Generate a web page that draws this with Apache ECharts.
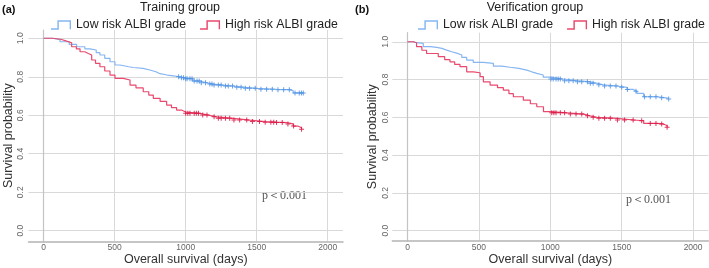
<!DOCTYPE html>
<html>
<head>
<meta charset="utf-8">
<script src="https://cdn.jsdelivr.net/npm/echarts@6/dist/echarts.min.js"></script>
<style>
  html, body { margin: 0; padding: 0; background: #fff; }
  #chart { width: 709px; height: 268px; }
</style>
</head>
<body>
<div id="chart"></div>
<script>
// Kaplan-Meier curves: time (days) and survival after each drop
const lowTimesA = [0, 60, 115, 180, 232, 290, 326, 370, 396, 430, 467, 502, 537, 600, 631, 700, 748, 790, 819, 870, 912, 960, 1000, 1050, 1100, 1150, 1194, 1260, 1335, 1420, 1500, 1640, 1734, 1757, 1828];
const lowSurvA = [1.0, 0.993, 0.982, 0.968, 0.956, 0.945, 0.939, 0.925, 0.913, 0.896, 0.878, 0.861, 0.852, 0.848, 0.844, 0.835, 0.826, 0.816, 0.809, 0.805, 0.8, 0.795, 0.79, 0.778, 0.769, 0.762, 0.757, 0.752, 0.745, 0.74, 0.735, 0.733, 0.728, 0.716, 0.716];
const highTimesA = [0, 60, 120, 162, 197, 230, 256, 290, 314, 338, 365, 396, 430, 467, 502, 560, 608, 650, 701, 740, 772, 820, 866, 900, 936, 970, 1000, 1100, 1160, 1218, 1335, 1452, 1560, 1640, 1711, 1757, 1790, 1816];
const highSurvA = [1.0, 0.995, 0.985, 0.977, 0.956, 0.945, 0.93, 0.921, 0.913, 0.887, 0.87, 0.852, 0.83, 0.809, 0.792, 0.783, 0.757, 0.742, 0.722, 0.705, 0.688, 0.672, 0.653, 0.64, 0.627, 0.617, 0.61, 0.601, 0.592, 0.584, 0.575, 0.567, 0.564, 0.562, 0.555, 0.544, 0.535, 0.527];

const lowTimesB = [0, 40, 63, 110, 160, 204, 240, 274, 310, 344, 380, 414, 460, 531, 601, 660, 718, 780, 835, 870, 905, 950, 1004, 1092, 1186, 1280, 1330, 1373, 1467, 1537, 1580, 1607, 1654, 1748, 1800, 1829];
const lowSurvB = [1.0, 0.995, 0.991, 0.974, 0.97, 0.965, 0.956, 0.947, 0.94, 0.93, 0.917, 0.903, 0.891, 0.886, 0.871, 0.865, 0.859, 0.85, 0.841, 0.833, 0.824, 0.813, 0.803, 0.794, 0.788, 0.78, 0.772, 0.766, 0.759, 0.748, 0.738, 0.727, 0.709, 0.704, 0.7, 0.697];
const highTimesB = [0, 40, 63, 100, 133, 215, 260, 297, 330, 367, 414, 460, 508, 531, 578, 630, 671, 710, 741, 811, 860, 905, 952, 1004, 1116, 1233, 1280, 1326, 1467, 1584, 1654, 1748, 1790, 1818];
const highSurvB = [1.0, 0.995, 0.974, 0.955, 0.938, 0.921, 0.905, 0.894, 0.88, 0.868, 0.841, 0.836, 0.815, 0.788, 0.771, 0.757, 0.744, 0.725, 0.709, 0.691, 0.672, 0.656, 0.63, 0.624, 0.617, 0.608, 0.6, 0.595, 0.586, 0.582, 0.568, 0.565, 0.557, 0.547];

// censoring times (the "+" marks)
const censLowA = [950, 970, 985, 1000, 1010, 1030, 1045, 1060, 1080, 1095, 1110, 1140, 1170, 1185, 1200, 1230, 1250, 1280, 1300, 1330, 1360, 1390, 1420, 1450, 1490, 1530, 1570, 1610, 1650, 1690, 1730, 1770, 1800, 1815, 1828];
const censHighA = [1000, 1015, 1030, 1060, 1075, 1090, 1120, 1150, 1200, 1230, 1250, 1280, 1310, 1340, 1380, 1430, 1470, 1520, 1560, 1600, 1620, 1640, 1680, 1720, 1760, 1816];
const censLowB = [1004, 1020, 1040, 1055, 1070, 1100, 1130, 1160, 1190, 1220, 1260, 1280, 1300, 1340, 1380, 1420, 1460, 1500, 1540, 1600, 1660, 1700, 1740, 1780, 1829];
const censHighB = [1010, 1025, 1040, 1070, 1100, 1140, 1180, 1220, 1260, 1300, 1340, 1380, 1420, 1470, 1520, 1580, 1640, 1700, 1740, 1780, 1818];

const xTicks = [0, 500, 1000, 1500, 2000];
const yTicks = [0, 0.2, 0.4, 0.6, 0.8, 1.0];
const groupNames = ["Low risk ALBI grade", "High risk ALBI grade"];
const panelTitles = ["Training group", "Verification group"];
const pText = "p\uFF1C0.001";

const LOW_LINE = "#86b6f2";
const LOW_MARK = "#4d90e2";
const HIGH_LINE = "#e9496d";
const HIGH_MARK = "#d91543";

const chart = echarts.init(document.getElementById("chart"));

function pairs(times, surv) {
  return times.map((t, i) => [t, surv[i]]);
}

// value of the step curve at time t
function survAt(t, times, surv) {
  let s = surv[0];
  for (let i = 0; i < times.length; i++) {
    if (times[i] <= t) s = surv[i];
  }
  return s;
}

function censorPoints(cens, times, surv) {
  return cens.map((t) => [t, survAt(t, times, surv)]);
}

const plus = "path://M-0.8,-4H0.8V-0.8H4V0.8H0.8V4H-0.8V0.8H-4V-0.8H-0.8Z";
const stepIcon = "path://M0,9H7V0H22V10H20.5V1.6H8.6V10.6H0Z";

function xAxis(gridIndex) {
  return {
    gridIndex,
    type: "value",
    min: -107,
    max: 2108,
    name: "Overall survival (days)",
    nameLocation: "middle",
    nameGap: 12,
    nameMoveOverlap: false,
    nameTextStyle: { fontSize: 12.5, color: "#333", fontFamily: "Liberation Sans" },
    axisLine: { show: true, onZero: false, lineStyle: { color: "#b4b4b4", width: 1.5 } },
    axisTick: { show: false, customValues: xTicks },
    axisLabel: {
      customValues: xTicks,
      fontSize: 8.5,
      color: "#666",
      margin: 2,
      fontFamily: "Liberation Sans",
      formatter: (v) => String(v),
    },
    splitLine: { show: true, lineStyle: { color: "#d9d9d9", width: 1 } },
  };
}

function yAxis(gridIndex, min, max, margin) {
  return {
    gridIndex,
    type: "value",
    min,
    max,
    name: "Survival probability",
    nameLocation: "middle",
    nameGap: 13,
    nameMoveOverlap: false,
    nameTextStyle: { fontSize: 12.5, color: "#333", fontFamily: "Liberation Sans" },
    axisLine: { show: true, lineStyle: { color: "#c4c4c4", width: 1.2 } },
    axisTick: { show: false, customValues: yTicks },
    axisLabel: {
      customValues: yTicks,
      rotate: 90,
      fontSize: 8.5,
      color: "#666",
      margin,
      fontFamily: "Liberation Sans",
      formatter: (v) => v.toFixed(1),
    },
    splitLine: { show: true, lineStyle: { color: "#d9d9d9", width: 1 } },
  };
}

function curveSeries(idx, name, times, surv, cens, lineColor, markColor) {
  return [
    {
      name,
      type: "line",
      xAxisIndex: idx,
      yAxisIndex: idx,
      step: "end",
      showSymbol: false,
      color: lineColor,
      lineStyle: { color: lineColor, width: 1.2 },
      data: pairs(times, surv),
      z: 3,
    },
    {
      name,
      type: "scatter",
      xAxisIndex: idx,
      yAxisIndex: idx,
      symbol: plus,
      symbolSize: 5,
      itemStyle: { color: markColor, opacity: 0.85 },
      data: censorPoints(cens, times, surv),
      z: 4,
    },
  ];
}

function legend(left) {
  return {
    left,
    top: 19,
    width: 320,
    padding: 0,
    icon: stepIcon,
    itemWidth: 20,
    itemHeight: 11,
    itemGap: 14,
    data: groupNames,
    textStyle: { fontSize: 12.3, color: "#222", fontFamily: "Liberation Sans" },
  };
}

function titleText(text, left, bold) {
  return {
    text,
    left,
    top: bold ? 4 : 1,
    padding: 0,
    textAlign: bold ? "left" : "center",
    textStyle: {
      fontSize: bold ? 11 : 12.5,
      fontWeight: bold ? "bold" : "normal",
      color: bold ? "#111" : "#222",
      fontFamily: "Liberation Sans",
    },
  };
}

chart.setOption({
  animation: false,
  tooltip: { show: false },
  color: [LOW_LINE, HIGH_LINE],
  title: [
    titleText("(a)", 2, true),
    titleText(panelTitles[0], 180, false),
    titleText("(b)", 355, true),
    titleText(panelTitles[1], 535, false),
  ],
  legend: [legend(51), legend(418)],
  grid: [
    { left: 28.5, right: 366, top: 30, bottom: 26.7, outerBoundsMode: "none" },
    { left: 392.3, right: 0.5, top: 32.7, bottom: 27.3, outerBoundsMode: "none" },
  ],
  xAxis: [xAxis(0), xAxis(1)],
  yAxis: [yAxis(0, -0.055, 1.043, 3), yAxis(1, -0.053, 1.048, 2)],
  series: [
    ...curveSeries(0, groupNames[0], lowTimesA, lowSurvA, censLowA, LOW_LINE, LOW_MARK),
    ...curveSeries(0, groupNames[1], highTimesA, highSurvA, censHighA, HIGH_LINE, HIGH_MARK),
    ...curveSeries(1, groupNames[0], lowTimesB, lowSurvB, censLowB, LOW_LINE, LOW_MARK),
    ...curveSeries(1, groupNames[1], highTimesB, highSurvB, censHighB, HIGH_LINE, HIGH_MARK),
  ],
  graphic: [
    { type: "text", left: 262, top: 190, style: { text: pText, fontSize: 12, fill: "#555", fontFamily: "Liberation Serif" } },
    { type: "text", left: 626, top: 194, style: { text: pText, fontSize: 12, fill: "#555", fontFamily: "Liberation Serif" } },
  ],
});
</script>
</body>
</html>
